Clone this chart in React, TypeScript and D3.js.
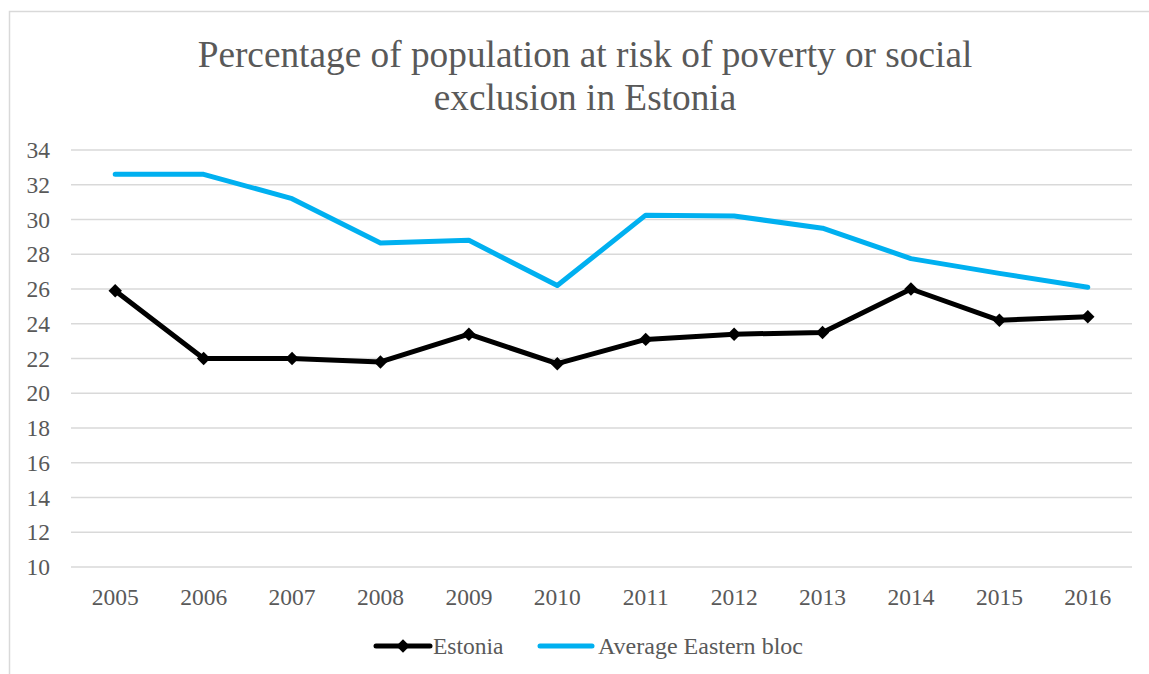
import React from "react";
import * as d3 from "d3";

const years = ["2005","2006","2007","2008","2009","2010","2011","2012","2013","2014","2015","2016"];
const estonia = [25.9, 22.0, 22.0, 21.8, 23.4, 21.7, 23.1, 23.4, 23.5, 26.0, 24.2, 24.4];
const easternBloc = [32.6, 32.6, 31.2, 28.65, 28.8, 26.2, 30.25, 30.2, 29.5, 27.75, 26.9, 26.1];
const yTicks = [10, 12, 14, 16, 18, 20, 22, 24, 26, 28, 30, 32, 34];
const titleLines = ["Percentage of population at risk of poverty or social", "exclusion in Estonia"];
const seriesNames = ["Estonia", "Average Eastern bloc"];

const W = 1149, H = 674;
const FONT = "'Liberation Serif', 'Times New Roman', serif";

export default function App() {
  const x = d3.scaleBand().domain(years).range([71, 1132]);
  const y = d3.scaleLinear().domain([10, 34]).range([567, 150]);
  const cx = (d: string) => (x(d) as number) + x.bandwidth() / 2;
  const line = d3.line<number>().x((_, i) => cx(years[i])).y((v) => y(v));
  const diamond = d3.symbol().type(d3.symbolSquare).size(90)() as string;
  const grey = "#595959";
  const blue = "#00B0F0";
  const fs = 23.5;
  return (
    <svg width={W} height={H} style={{ position: "absolute", left: 0, top: 0, background: "#fff" }}>
      <rect x={9.5} y={11.5} width={W + 10} height={H + 10} fill="#fff" stroke="#d9d9d9" strokeWidth={1.5} />
      {titleLines.map((t, i) => (
        <text key={i} x={585} y={67 + i * 43} textAnchor="middle" fontFamily={FONT} fontSize={37.3} fill={grey}>{t}</text>
      ))}
      {yTicks.map((t) => (
        <g key={t}>
          <line x1={71} x2={1132} y1={y(t)} y2={y(t)} stroke="#d9d9d9" strokeWidth={1.5} />
          <text x={50} y={y(t) + 8} textAnchor="end" fontFamily={FONT} fontSize={fs} fill={grey}>{t}</text>
        </g>
      ))}
      {years.map((yr) => (
        <text key={yr} x={cx(yr)} y={605} textAnchor="middle" fontFamily={FONT} fontSize={fs} fill={grey}>{yr}</text>
      ))}
      <path d={line(easternBloc) as string} fill="none" stroke={blue} strokeWidth={5} strokeLinejoin="round" strokeLinecap="round" />
      <path d={line(estonia) as string} fill="none" stroke="#000" strokeWidth={5} strokeLinejoin="round" strokeLinecap="round" />
      {estonia.map((v, i) => (
        <path key={i} d={diamond} transform={`translate(${cx(years[i])},${y(v)}) rotate(45)`} fill="#000" />
      ))}
      <g>
        <line x1={376} x2={430} y1={646} y2={646} stroke="#000" strokeWidth={5} strokeLinecap="round" />
        <path d={diamond} transform="translate(403,646) rotate(45)" fill="#000" />
        <text x={433} y={654} fontFamily={FONT} fontSize={fs} fill={grey}>{seriesNames[0]}</text>
        <line x1={540} x2={592} y1={646} y2={646} stroke={blue} strokeWidth={5} strokeLinecap="round" />
        <text x={598} y={654} fontFamily={FONT} fontSize={fs} fill={grey} textLength={205} lengthAdjust="spacingAndGlyphs">{seriesNames[1]}</text>
      </g>
    </svg>
  );
}
